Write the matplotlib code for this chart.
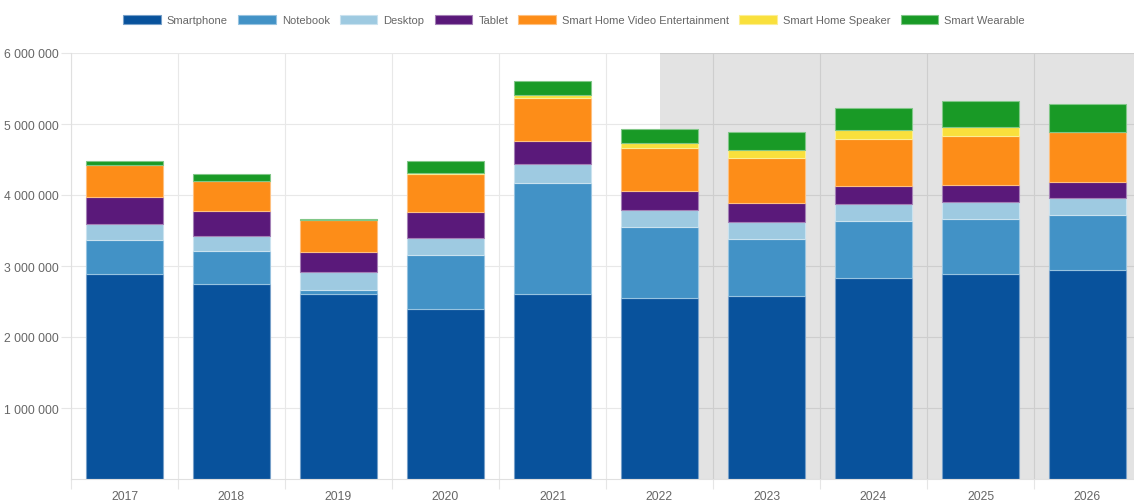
import matplotlib
matplotlib.use("Agg")
import matplotlib.pyplot as plt
import matplotlib.colors as mcolors
import numpy as np

years = ["2017", "2018", "2019", "2020", "2021", "2022", "2023", "2024", "2025", "2026"]
series_names = ["Smartphone", "Notebook", "Desktop", "Tablet",
                "Smart Home Video Entertainment", "Smart Home Speaker", "Smart Wearable"]

smartphone = [2883000, 2742000, 2610000, 2399000, 2601000, 2549000, 2573000, 2835000, 2887000, 2939000]
notebook   = [479000, 469000, 52000, 751000, 1572000, 996000, 807000, 794000, 775000, 775000]
desktop    = [230000, 216000, 258000, 249000, 259000, 239000, 235000, 244000, 239000, 239000]
tablet     = [380000, 343000, 277000, 362000, 329000, 268000, 268000, 258000, 245000, 235000]
video_ent  = [455000, 432000, 451000, 539000, 610000, 610000, 634000, 658000, 690000, 704000]
speaker    = [0, 0, 0, 14000, 37000, 75000, 112000, 122000, 126000, 0]
wearable   = [56000, 89000, 19000, 169000, 198000, 193000, 258000, 310000, 357000, 394000]

colors = ["#08529c", "#4292c6", "#9ecae1", "#5a197a", "#fd8d18", "#f9e03c", "#199a26"]

y_ticks = [1000000, 2000000, 3000000, 4000000, 5000000, 6000000]
forecast_start_index = 5

plt.rcParams['font.family'] = ['Liberation Sans', 'DejaVu Sans']
text_color = "#666666"

fig = plt.figure(figsize=(11.34, 5.02), dpi=100)
ax = fig.add_axes([71/1134, 1 - 480/502, 1070/1134, 426/502])

x = np.arange(len(years))
data = [smartphone, notebook, desktop, tablet, video_ent, speaker, wearable]
bottom = np.zeros(len(years))
handles = []
for name, vals, col in zip(series_names, data, colors):
    vals = np.array(vals, dtype=float)
    edge = mcolors.to_rgb(col)
    edge = tuple(0.55 * c + 0.45 for c in edge)
    b = ax.bar(x, vals, width=0.72, bottom=bottom, color=col, edgecolor=edge,
               linewidth=0.8, zorder=2, label=name)
    handles.append(b)
    bottom += vals

# forecast shading
ax.axvspan(forecast_start_index, len(years) - 0.5, color="black", alpha=0.11,
           linewidth=0, zorder=0.8)

ax.set_xlim(-0.5, len(years) - 0.5)
ax.set_ylim(0, 6000000)

ax.set_yticks(y_ticks)
ax.set_yticklabels([f"{v:,}".replace(",", " ") for v in y_ticks])
ax.set_xticks(x)
ax.set_xticklabels(years)
ax.set_xticks(np.arange(-0.5, len(years), 1), minor=True)

ax.tick_params(axis='y', colors="#e6e6e6", labelcolor=text_color, labelsize=8.7,
               length=7, width=0.8, pad=1.5)
ax.tick_params(axis='x', which='major', length=0, labelcolor=text_color,
               labelsize=8.7, pad=8)
ax.tick_params(axis='x', which='minor', length=7, width=0.8, color="#e6e6e6")

ax.set_axisbelow(True)
ax.yaxis.grid(True, color="#e8e8e8", linewidth=0.8)
ax.xaxis.grid(True, which='minor', color="#e8e8e8", linewidth=0.8)
ax.xaxis.grid(False, which='major')

for s in ["top", "right"]:
    ax.spines[s].set_visible(False)
for s in ["left", "bottom"]:
    ax.spines[s].set_color("#e0e0e0")
    ax.spines[s].set_linewidth(0.8)

leg = fig.legend(handles=handles, labels=series_names, loc="center",
                 bbox_to_anchor=(574/1134, 1 - 21/502), ncol=7, frameon=False,
                 fontsize=8.0, handlelength=3.4, handleheight=0.9,
                 columnspacing=0.9, handletextpad=0.55, labelcolor=text_color)
for h in leg.legend_handles:
    h.set_linewidth(0.8)

fig.savefig("out.png", dpi=100)
